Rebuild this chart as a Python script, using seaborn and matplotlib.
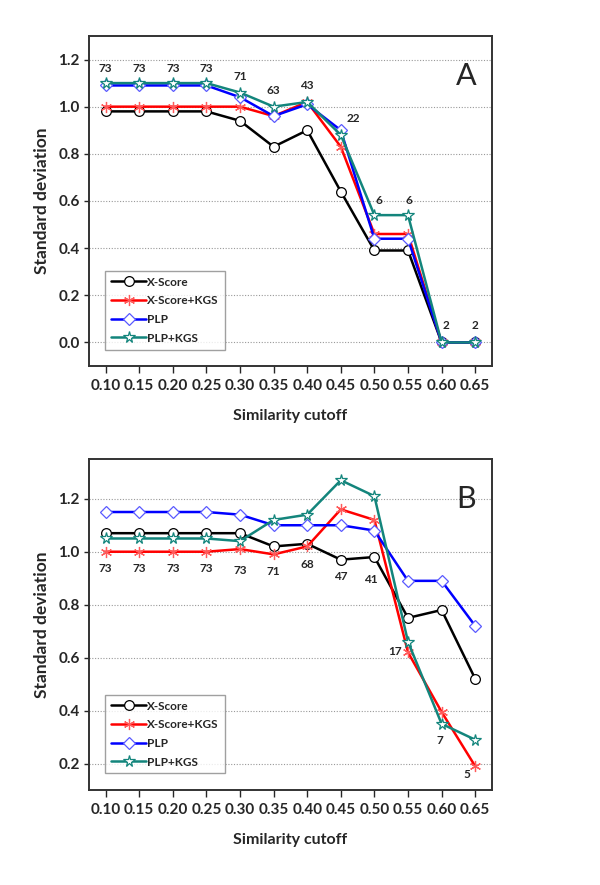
import numpy as np
import pandas as pd
import matplotlib
matplotlib.use('Agg')
import matplotlib.pyplot as plt
import seaborn as sns

cutoffs = [0.10, 0.15, 0.20, 0.25, 0.30, 0.35, 0.40, 0.45, 0.50, 0.55, 0.60, 0.65]
tick_labels = ['%.2f' % c for c in cutoffs]
methods = ['X-Score', 'X-Score+KGS', 'PLP', 'PLP+KGS']

# panel A values
a_xscore = [0.98, 0.98, 0.98, 0.98, 0.94, 0.83, 0.90, 0.64, 0.39, 0.39, 0.0, 0.0]
a_xscore_kgs = [1.00, 1.00, 1.00, 1.00, 1.00, 0.96, 1.02, 0.83, 0.46, 0.46, 0.0, 0.0]
a_plp = [1.09, 1.09, 1.09, 1.09, 1.04, 0.96, 1.01, 0.90, 0.44, 0.44, 0.0, 0.0]
a_plp_kgs = [1.10, 1.10, 1.10, 1.10, 1.06, 1.00, 1.02, 0.88, 0.54, 0.54, 0.0, 0.0]

# panel B values
b_xscore = [1.07, 1.07, 1.07, 1.07, 1.07, 1.02, 1.03, 0.97, 0.98, 0.75, 0.78, 0.52]
b_xscore_kgs = [1.00, 1.00, 1.00, 1.00, 1.01, 0.99, 1.02, 1.16, 1.12, 0.62, 0.395, 0.19]
b_plp = [1.15, 1.15, 1.15, 1.15, 1.14, 1.10, 1.10, 1.10, 1.08, 0.89, 0.89, 0.72]
b_plp_kgs = [1.05, 1.05, 1.05, 1.05, 1.04, 1.12, 1.14, 1.27, 1.21, 0.66, 0.35, 0.29]

# count annotations (text, x, y)
a_counts = ['73', '73', '73', '73', '71', '63', '43', '22', '6', '6', '2', '2']
a_count_x = [0.10, 0.15, 0.20, 0.25, 0.30, 0.35, 0.40, 0.468, 0.507, 0.552, 0.607, 0.65]
a_count_y = [1.16, 1.16, 1.16, 1.16, 1.13, 1.07, 1.09, 0.95, 0.60, 0.60, 0.07, 0.07]

b_counts = ['73', '73', '73', '73', '73', '71', '68', '47', '41', '17', '7', '5']
b_count_x = [0.10, 0.15, 0.20, 0.25, 0.30, 0.35, 0.40, 0.45, 0.495, 0.531, 0.598, 0.637]
b_count_y = [0.936, 0.936, 0.936, 0.936, 0.93, 0.925, 0.95, 0.907, 0.894, 0.623, 0.288, 0.158]

colors = ['black', '#ff0000', '#0000ff', '#13857c']
edge_colors = ['black', '#ff5a5a', '#5a5aff', '#13857c']
markers = ['o', (6, 2, 0), 'D', '*']
msizes = [7, 8, 6.5, 8.5]

sns.set_style('white')
plt.rcParams['font.family'] = ['Lato', 'DejaVu Sans']
plt.rcParams['font.weight'] = 'bold'


def draw_panel(ax, series, counts, cx, cy, ylim, yticks, letter, letter_y):
    df = pd.DataFrame({'cutoff': cutoffs})
    for name, vals in zip(methods, series):
        df[name] = vals
    long = df.melt(id_vars='cutoff', var_name='method', value_name='sd')
    for i, name in enumerate(methods):
        sub = long[long['method'] == name]
        sns.lineplot(data=sub, x='cutoff', y='sd', ax=ax, color=colors[i], lw=1.8,
                     marker=markers[i], markersize=msizes[i], markerfacecolor='white',
                     markeredgecolor=edge_colors[i], markeredgewidth=0.9, label=name,
                     zorder=3 + i)
    for t, x, y in zip(counts, cx, cy):
        ax.text(x, y, t, ha='center', va='center', fontsize=8.5, fontweight='bold')
    ax.set_xlim(0.075, 0.675)
    ax.set_ylim(*ylim)
    ax.set_xticks(cutoffs)
    ax.set_xticklabels(tick_labels)
    ax.set_yticks(yticks)
    ax.set_yticklabels(['%.1f' % v for v in yticks])
    ax.tick_params(axis='x', direction='out', length=5, width=1, pad=4, labelsize=11,
                   bottom=True, top=False)
    ax.tick_params(axis='y', direction='out', length=3.5, width=1, pad=3, labelsize=11,
                   left=True, right=False)
    for lab in ax.get_xticklabels() + ax.get_yticklabels():
        lab.set_fontweight('bold')
    ax.yaxis.grid(True, linestyle=(0, (1, 1.5)), color='#999999', lw=0.8)
    ax.set_axisbelow(True)
    for sp in ax.spines.values():
        sp.set_color('#333333')
        sp.set_linewidth(1.4)
    ax.set_xlabel('Similarity cutoff', fontsize=11.5, fontweight='bold', labelpad=12)
    ax.set_ylabel('Standard deviation', fontsize=12.5, fontweight='bold', labelpad=6)
    ax.text(0.637, letter_y, letter, ha='center', va='center', fontsize=22,
            fontweight='normal')
    leg = ax.legend(loc='lower left', bbox_to_anchor=(0.04, 0.05), handlelength=3.0,
                    frameon=True, fancybox=False, edgecolor='#888888', fontsize=8.5,
                    borderpad=0.5, labelspacing=0.65, handletextpad=0.1, borderaxespad=0)
    leg.get_frame().set_linewidth(1.0)
    for txt in leg.get_texts():
        txt.set_fontweight('bold')


fig = plt.figure(figsize=(6, 8.85), dpi=100)
ax_a = fig.add_axes([0.148, 0.5864, 0.672, 0.373])
ax_b = fig.add_axes([0.148, 0.1073, 0.672, 0.374])

draw_panel(ax_a, [a_xscore, a_xscore_kgs, a_plp, a_plp_kgs], a_counts, a_count_x, a_count_y,
           (-0.1, 1.3), [0.0, 0.2, 0.4, 0.6, 0.8, 1.0, 1.2], 'A', 1.13)
draw_panel(ax_b, [b_xscore, b_xscore_kgs, b_plp, b_plp_kgs], b_counts, b_count_x, b_count_y,
           (0.1, 1.35), [0.2, 0.4, 0.6, 0.8, 1.0, 1.2], 'B', 1.2)

fig.savefig('out.png', dpi=100)
